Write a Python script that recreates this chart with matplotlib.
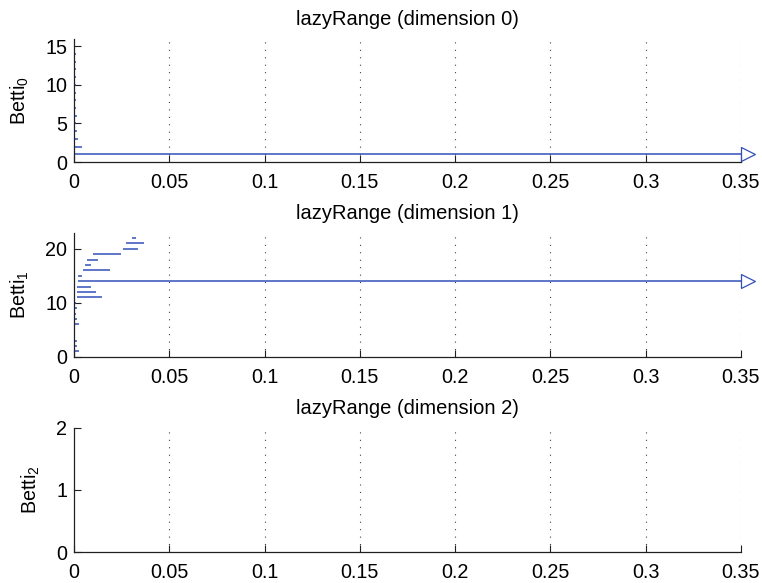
import numpy as np
import matplotlib
matplotlib.use("Agg")
import matplotlib.pyplot as plt
from matplotlib.path import Path

plt.rcParams['font.family'] = ['Liberation Sans', 'DejaVu Sans']
plt.rcParams['mathtext.default'] = 'regular'

# Persistence intervals (birth, death) for each homology dimension.
# np.inf marks an interval that never dies.
dim0_birth = [0.0] * 15
dim0_death = [np.inf, 0.0042, 0.0021, 0.0017, 0.0012, 0.0014, 0.0012, 0.0012,
              0.0012, 0.0010, 0.0009, 0.0009, 0.0009, 0.0009, 0.0007]

dim1_birth = [0.0, 0.0, 0.0, 0.0, 0.0, 0.0, 0.0, 0.0, 0.0, 0.0,
              0.0014, 0.0014, 0.0014, 0.0023, 0.0021, 0.0049, 0.0058,
              0.0070, 0.0098, 0.0259, 0.0273, 0.0302]
dim1_death = [0.0028, 0.0014, 0.0014, 0.0007, 0.0007, 0.0028, 0.0014, 0.0011,
              0.0014, 0.0010, 0.0147, 0.0114, 0.0091, np.inf, 0.0042, 0.0189,
              0.0091, 0.0126, 0.0245, 0.0337, 0.0366, 0.0324]

dim2_birth = []
dim2_death = []

x_max = 0.35
x_ticks = [0, 0.05, 0.1, 0.15, 0.2, 0.25, 0.3, 0.35]
x_tick_labels = ['0', '0.05', '0.1', '0.15', '0.2', '0.25', '0.3', '0.35']
y_ticks = [[0, 5, 10, 15], [0, 10, 20], [0, 1, 2]]
titles = ['lazyRange (dimension 0)', 'lazyRange (dimension 1)',
          'lazyRange (dimension 2)']
ylabels = ['Betti$_0$', 'Betti$_1$', 'Betti$_2$']

bar_color = '#3350b8'

# open triangle whose flat side sits on the data point
arrow = Path([(0, -0.5), (1, 0), (0, 0.5), (0, -0.5)],
             [Path.MOVETO, Path.LINETO, Path.LINETO, Path.CLOSEPOLY])

fig = plt.figure(figsize=(7.62, 5.83), dpi=100)
positions = [
    [0.0971, 0.7221, 0.8753, 0.2118],
    [0.0971, 0.3882, 0.8753, 0.2127],
    [0.0971, 0.0527, 0.8753, 0.2137],
]
data = [(dim0_birth, dim0_death), (dim1_birth, dim1_death),
        (dim2_birth, dim2_death)]

for k, (pos, (births, deaths)) in enumerate(zip(positions, data)):
    ax = fig.add_axes(pos)
    n = len(births)
    for i, (b, d) in enumerate(zip(births, deaths)):
        y = i + 1
        if np.isinf(d):
            ax.plot([b, x_max], [y, y], color=bar_color, lw=1.1,
                    solid_capstyle='butt')
            ax.plot([x_max], [y], marker=arrow, markersize=20,
                    markerfacecolor='none', markeredgecolor=bar_color,
                    markeredgewidth=0.9, clip_on=False, linestyle='none')
        else:
            ax.plot([b, d], [y, y], color=bar_color, lw=1.1,
                    solid_capstyle='butt')
    ax.set_xlim(0, x_max)
    ax.set_ylim(0, n + 1 if n > 0 else 2)
    ax.set_xticks(x_ticks)
    ax.set_xticklabels(x_tick_labels)
    ax.set_yticks(y_ticks[k])
    for xt in x_ticks[1:]:
        ax.axvline(xt, color='#303030', lw=0.8,
                   linestyle=(0, (0.9, 5.8)), zorder=0)
    ax.spines['top'].set_visible(False)
    ax.spines['right'].set_visible(False)
    for s in ('left', 'bottom'):
        ax.spines[s].set_linewidth(0.9)
        ax.spines[s].set_color('#202020')
    ax.tick_params(direction='in', length=5, width=0.8, labelsize=14.2,
                   color='#202020')
    ax.tick_params(axis='x', pad=8)
    ax.tick_params(axis='y', pad=5)
    ax.set_title(titles[k], fontsize=14.5, pad=10)
    ax.set_ylabel(ylabels[k], fontsize=14.2, labelpad=10)

fig.savefig('out.png', dpi=100)
